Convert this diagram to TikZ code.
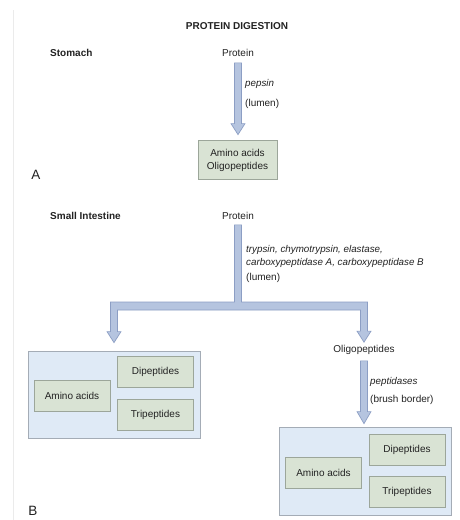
\documentclass[tikz,border=0pt]{standalone}
\usepackage{fontspec}
\setmainfont{Liberation Sans}
\usetikzlibrary{calc}
\definecolor{arrfill}{HTML}{B5C4DF}
\definecolor{arrline}{HTML}{8C9EC4}
\definecolor{boxfill}{HTML}{D9E3D4}
\definecolor{boxline}{HTML}{9CA69A}
\definecolor{bigfill}{HTML}{DFEAF6}
\definecolor{bigline}{HTML}{A4ACB6}
\definecolor{txt}{HTML}{222222}
\begin{document}
\begin{tikzpicture}[x=1pt,y=-1pt,
  every node/.style={text=txt,font=\fontsize{10}{12}\selectfont,inner sep=0pt},
  hdr/.style={font=\fontsize{10}{12}\selectfont\bfseries},
  lab/.style={anchor=west},
  enz/.style={anchor=west,font=\fontsize{9.8}{12}\selectfont\itshape},
  smallbox/.style={draw=boxline,fill=boxfill,line width=0.8pt,minimum width=76pt,minimum height=31pt,align=center},
  bigbox/.style={draw=bigline,fill=bigfill,line width=0.8pt},
  blockarrow/.style={draw=arrline,fill=arrfill,line width=0.7pt,line join=miter},
  panel/.style={font=\fontsize{13.5}{16}\selectfont}]
\useasboundingbox (0,0) rectangle (460,520);
\fill[white] (0,0) rectangle (460,520);
\draw[black!8,line width=0.6pt] (13,10) -- (13,520);

% titles
\node[hdr] (title) at (237,26) {PROTEIN DIGESTION};
\node[hdr,anchor=west] (stomach) at (50,53) {Stomach};
\node (protA) at (238,53) {Protein};
\node[enz] (pepsin) at (245,84) {pepsin};
\node[lab] (lumenA) at (245,104) {(lumen)};
\node[smallbox,minimum width=79pt,minimum height=39pt,text depth=0pt,
  font=\fontsize{10}{13}\selectfont] (boxA) at (237.5,159.5) {Amino acids\\Oligopeptides};
\node[panel] (labA) at (36,175) {A};

% stomach arrow
\coordinate (a1) at ($(protA.south)+(0,6)$);
\coordinate (a2) at ($(boxA.north)+(0,-5)$);
\path[blockarrow] let \p1=(a1), \p2=(a2) in
  (\x1-3.5,\y1) -- (\x1+3.5,\y1) -- (\x1+3.5,\y2+11) -- (\x1+7,\y2+11) -- (\x1,\y2)
  -- (\x1-7,\y2+11) -- (\x1-3.5,\y2+11) -- cycle;

% small intestine
\node[hdr,anchor=west] (smallint) at (50,216) {Small Intestine};
\node (protB) at (238,216) {Protein};
\node[enz] (enz1) at (246,250) {trypsin, chymotrypsin, elastase,};
\node[enz] (enz2) at (246,263) {carboxypeptidase A, carboxypeptidase B};
\node[lab] (lumenB) at (246,278) {(lumen)};

% left big box
\node[bigbox,minimum width=172pt,minimum height=87pt] (bigL) at (114,394.5) {};
\node[smallbox] (dipL) at (155.5,372) {Dipeptides};
\node[smallbox] (aaL) at (72,395.5) {Amino acids};
\node[smallbox] (triL) at (155.5,414.5) {Tripeptides};

% oligopeptides
\node (oligo) at (364,350) {Oligopeptides};
\node[enz] (pept) at (370,382) {peptidases};
\node[lab] (brush) at (370,400) {(brush border)};

% right big box
\node[bigbox,minimum width=172pt,minimum height=88pt] (bigR) at (365,471) {};
\node[smallbox] (dipR) at (407,449.5) {Dipeptides};
\node[smallbox] (aaR) at (323.5,472.5) {Amino acids};
\node[smallbox] (triR) at (407,491.5) {Tripeptides};

% fork arrow
\coordinate (f0) at ($(protB.south)+(0,5)$);
\coordinate (fl) at ($(bigL.north)+(0,-8)$);
\coordinate (fr) at ($(oligo.north)+(0,-3)$);
\path[blockarrow] let \p0=(f0), \p1=(fl), \p2=(fr) in
  (\x0-3.5,\y0) -- (\x0+3.5,\y0) -- (\x0+3.5,302) -- (\x2+3.5,302)
  -- (\x2+3.5,\y2+11) -- (\x2+7,\y2+11) -- (\x2,\y2) -- (\x2-7,\y2+11) -- (\x2-3.5,\y2+11)
  -- (\x2-3.5,310) -- (\x1+3.5,310)
  -- (\x1+3.5,\y1+11) -- (\x1+7,\y1+11) -- (\x1,\y1) -- (\x1-7,\y1+11) -- (\x1-3.5,\y1+11)
  -- (\x1-3.5,302) -- (\x0-3.5,302) -- cycle;

% oligopeptides arrow
\coordinate (o1) at ($(oligo.south)+(0,6)$);
\coordinate (o2) at ($(bigR.north)+(0,-3)$);
\path[blockarrow] let \p1=(o1), \p2=(o2) in
  (\x1-3.5,\y1) -- (\x1+3.5,\y1) -- (\x1+3.5,\y2+12) -- (\x1+7,\y2+12) -- (\x1,\y2)
  -- (\x1-7,\y2+12) -- (\x1-3.5,\y2+12) -- cycle;

\node[panel,anchor=south] (labB) at (33,516) {B};
\end{tikzpicture}
\end{document}
